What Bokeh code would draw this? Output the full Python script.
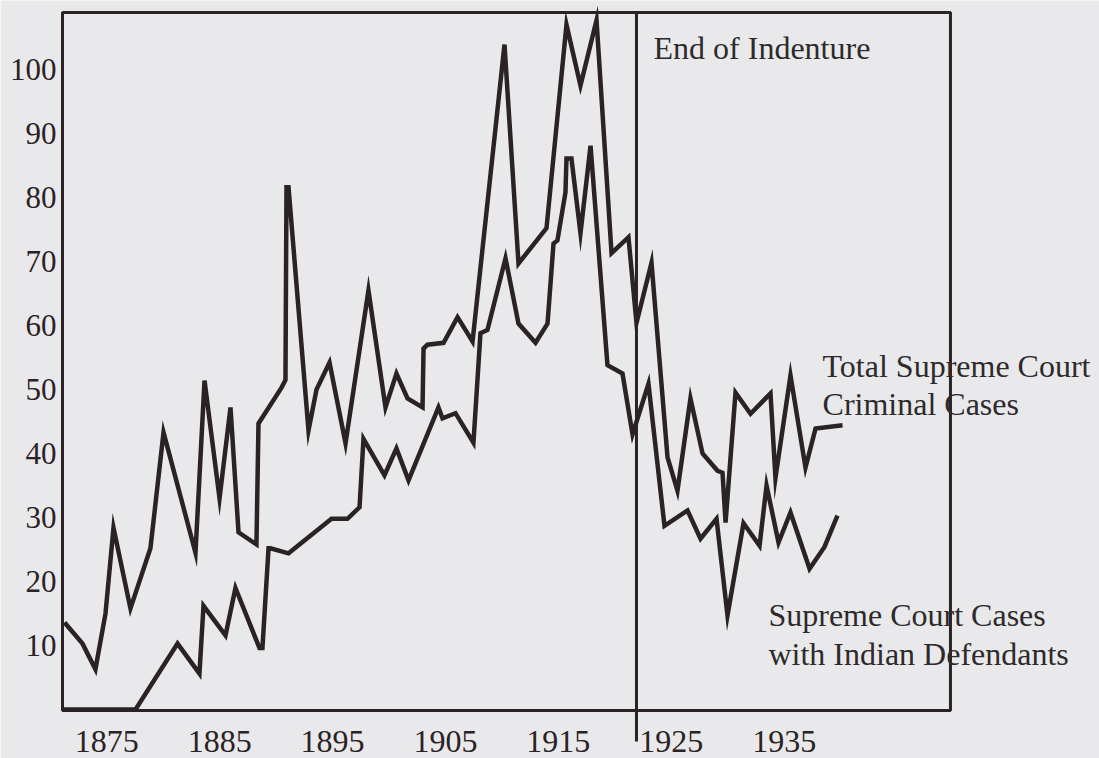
from bokeh.plotting import figure
from bokeh.models import Range1d, FixedTicker, Label, Arrow, BoxAnnotation
from bokeh.embed import file_html
from bokeh.resources import INLINE

# ---- data (x in years as placed on the chart, y in cases) ----
total_years = [1871.26, 1872.85, 1874.00, 1874.89, 1875.60, 1877.10, 1878.87, 1880.03,
               1882.86, 1883.66, 1884.99, 1885.96, 1886.67, 1888.26, 1888.44, 1890.48,
               1890.83, 1890.92, 1891.10, 1892.87, 1893.58, 1894.73, 1896.15, 1898.18,
               1899.69, 1900.66, 1901.64, 1902.97, 1903.06, 1903.41, 1904.83, 1906.07,
               1907.40, 1910.23, 1911.47, 1913.95, 1915.72, 1916.96, 1918.38, 1919.71,
               1921.21, 1921.92, 1923.25, 1924.67, 1925.55, 1926.70, 1927.77, 1929.10,
               1929.54, 1929.81, 1930.69, 1932.02, 1933.79, 1934.23, 1935.56, 1936.89,
               1937.78, 1940.17]
total_cases = [13.6, 10.3, 6.3, 15.0, 28.4, 15.8, 25.2, 43.3,
               24.5, 51.4, 33.0, 47.2, 27.7, 25.8, 44.7, 50.3,
               51.5, 81.6, 81.6, 43.6, 50.0, 54.2, 41.6, 65.5,
               47.2, 52.5, 48.6, 47.2, 56.4, 57.0, 57.3, 61.3,
               57.5, 103.9, 69.7, 75.2, 107.0, 97.5, 107.7, 71.3,
               73.8, 60.4, 69.8, 39.4, 34.2, 48.6, 40.0, 37.3,
               37.0, 29.2, 49.5, 46.2, 49.4, 36.2, 52.2, 37.8,
               43.9, 44.4]

indian_years = [1871.08, 1877.55, 1881.27, 1883.21, 1883.57, 1885.52, 1886.40, 1888.53,
                1888.79, 1889.33, 1889.50, 1891.10, 1894.91, 1896.32, 1897.39, 1897.74,
                1899.60, 1900.66, 1901.73, 1904.38, 1904.74, 1905.89, 1907.48, 1908.10,
                1908.72, 1910.32, 1911.47, 1912.98, 1914.04, 1914.57, 1914.92, 1915.63,
                1915.72, 1916.16, 1916.96, 1917.85, 1919.35, 1920.68, 1921.57, 1922.98,
                1924.40, 1926.44, 1927.59, 1929.01, 1929.98, 1931.40, 1932.82, 1933.44,
                1934.50, 1935.56, 1937.25, 1938.57, 1939.72]
indian_cases = [0.0, 0.0, 10.3, 5.6, 16.2, 11.6, 19.0, 9.6,
                9.6, 25.2, 25.2, 24.4, 29.8, 29.8, 31.6, 42.3,
                36.6, 40.8, 35.8, 47.2, 45.5, 46.3, 41.7, 58.8,
                59.3, 70.5, 60.3, 57.3, 60.3, 72.8, 73.3, 80.8,
                86.1, 86.1, 74.4, 88.1, 53.8, 52.5, 43.0, 50.9,
                28.7, 31.1, 26.7, 29.8, 14.7, 29.1, 25.6, 35.0,
                26.1, 30.8, 22.0, 25.4, 30.3]

x_ticks = [1875, 1885, 1895, 1905, 1915, 1925, 1935]
y_ticks = [10, 20, 30, 40, 50, 60, 70, 80, 90, 100]
indenture_year = 1921.92

# chart box (data limits of the drawn frame)
box_x = (1871.08, 1949.73)
box_y = (-0.15, 108.9)

ink = "#2a2224"
paper = "#e9e9eb"
serif = "Liberation Serif"

p = figure(width=1099, height=758, output_backend="svg", toolbar_location=None,
           x_range=Range1d(1865.59, 1962.93), y_range=Range1d(-7.65, 110.78),
           min_border_left=0, min_border_right=0, min_border_top=0, min_border_bottom=0,
           background_fill_color=paper, border_fill_color=paper)

p.outline_line_color = None
p.xgrid.visible = False
p.ygrid.visible = False

for ax in (p.xaxis[0], p.yaxis[0]):
    ax.axis_line_color = None
    ax.major_tick_line_color = None
    ax.minor_tick_line_color = None
    ax.major_tick_out = 0
    ax.major_tick_in = 0
    ax.minor_tick_out = 0
    ax.minor_tick_in = 0
    ax.major_label_text_font = serif
    ax.major_label_text_color = ink

p.xaxis[0].fixed_location = box_y[0]
p.xaxis[0].ticker = FixedTicker(ticks=x_ticks)
p.xaxis[0].major_label_text_font_size = "32px"
p.xaxis[0].major_label_standoff = 21
p.yaxis[0].fixed_location = box_x[0]
p.yaxis[0].ticker = FixedTicker(ticks=y_ticks)
p.yaxis[0].major_label_text_font_size = "31px"
p.yaxis[0].major_label_standoff = 6

p.add_layout(BoxAnnotation(left=box_x[0], right=box_x[1], bottom=box_y[0], top=box_y[1],
                           fill_alpha=0, line_color=ink, line_alpha=1.0, line_width=3))

p.line(total_years, total_cases, line_color=ink, line_width=4.5, line_join="miter")
p.line(indian_years, indian_cases, line_color=ink, line_width=4.5, line_join="miter")

p.add_layout(Arrow(end=None, start=None, x_start=indenture_year, y_start=-5.0,
                   x_end=indenture_year, y_end=box_y[1], line_color=ink, line_width=3))

def note(x, y, text):
    p.add_layout(Label(x=x, y=y, text=text, text_font=serif, text_font_size="32px",
                       text_color="#2e2a2c", text_baseline="alphabetic", text_align="left"))

note(1923.43, 103.4, "End of Indenture")
note(1938.40, 53.75, "Total Supreme Court")
note(1938.40, 47.8, "Criminal Cases")
note(1933.61, 14.7, "Supreme Court Cases")
note(1933.61, 8.75, "with Indian Defendants")

open("out.html", "w").write(file_html(p, INLINE))
